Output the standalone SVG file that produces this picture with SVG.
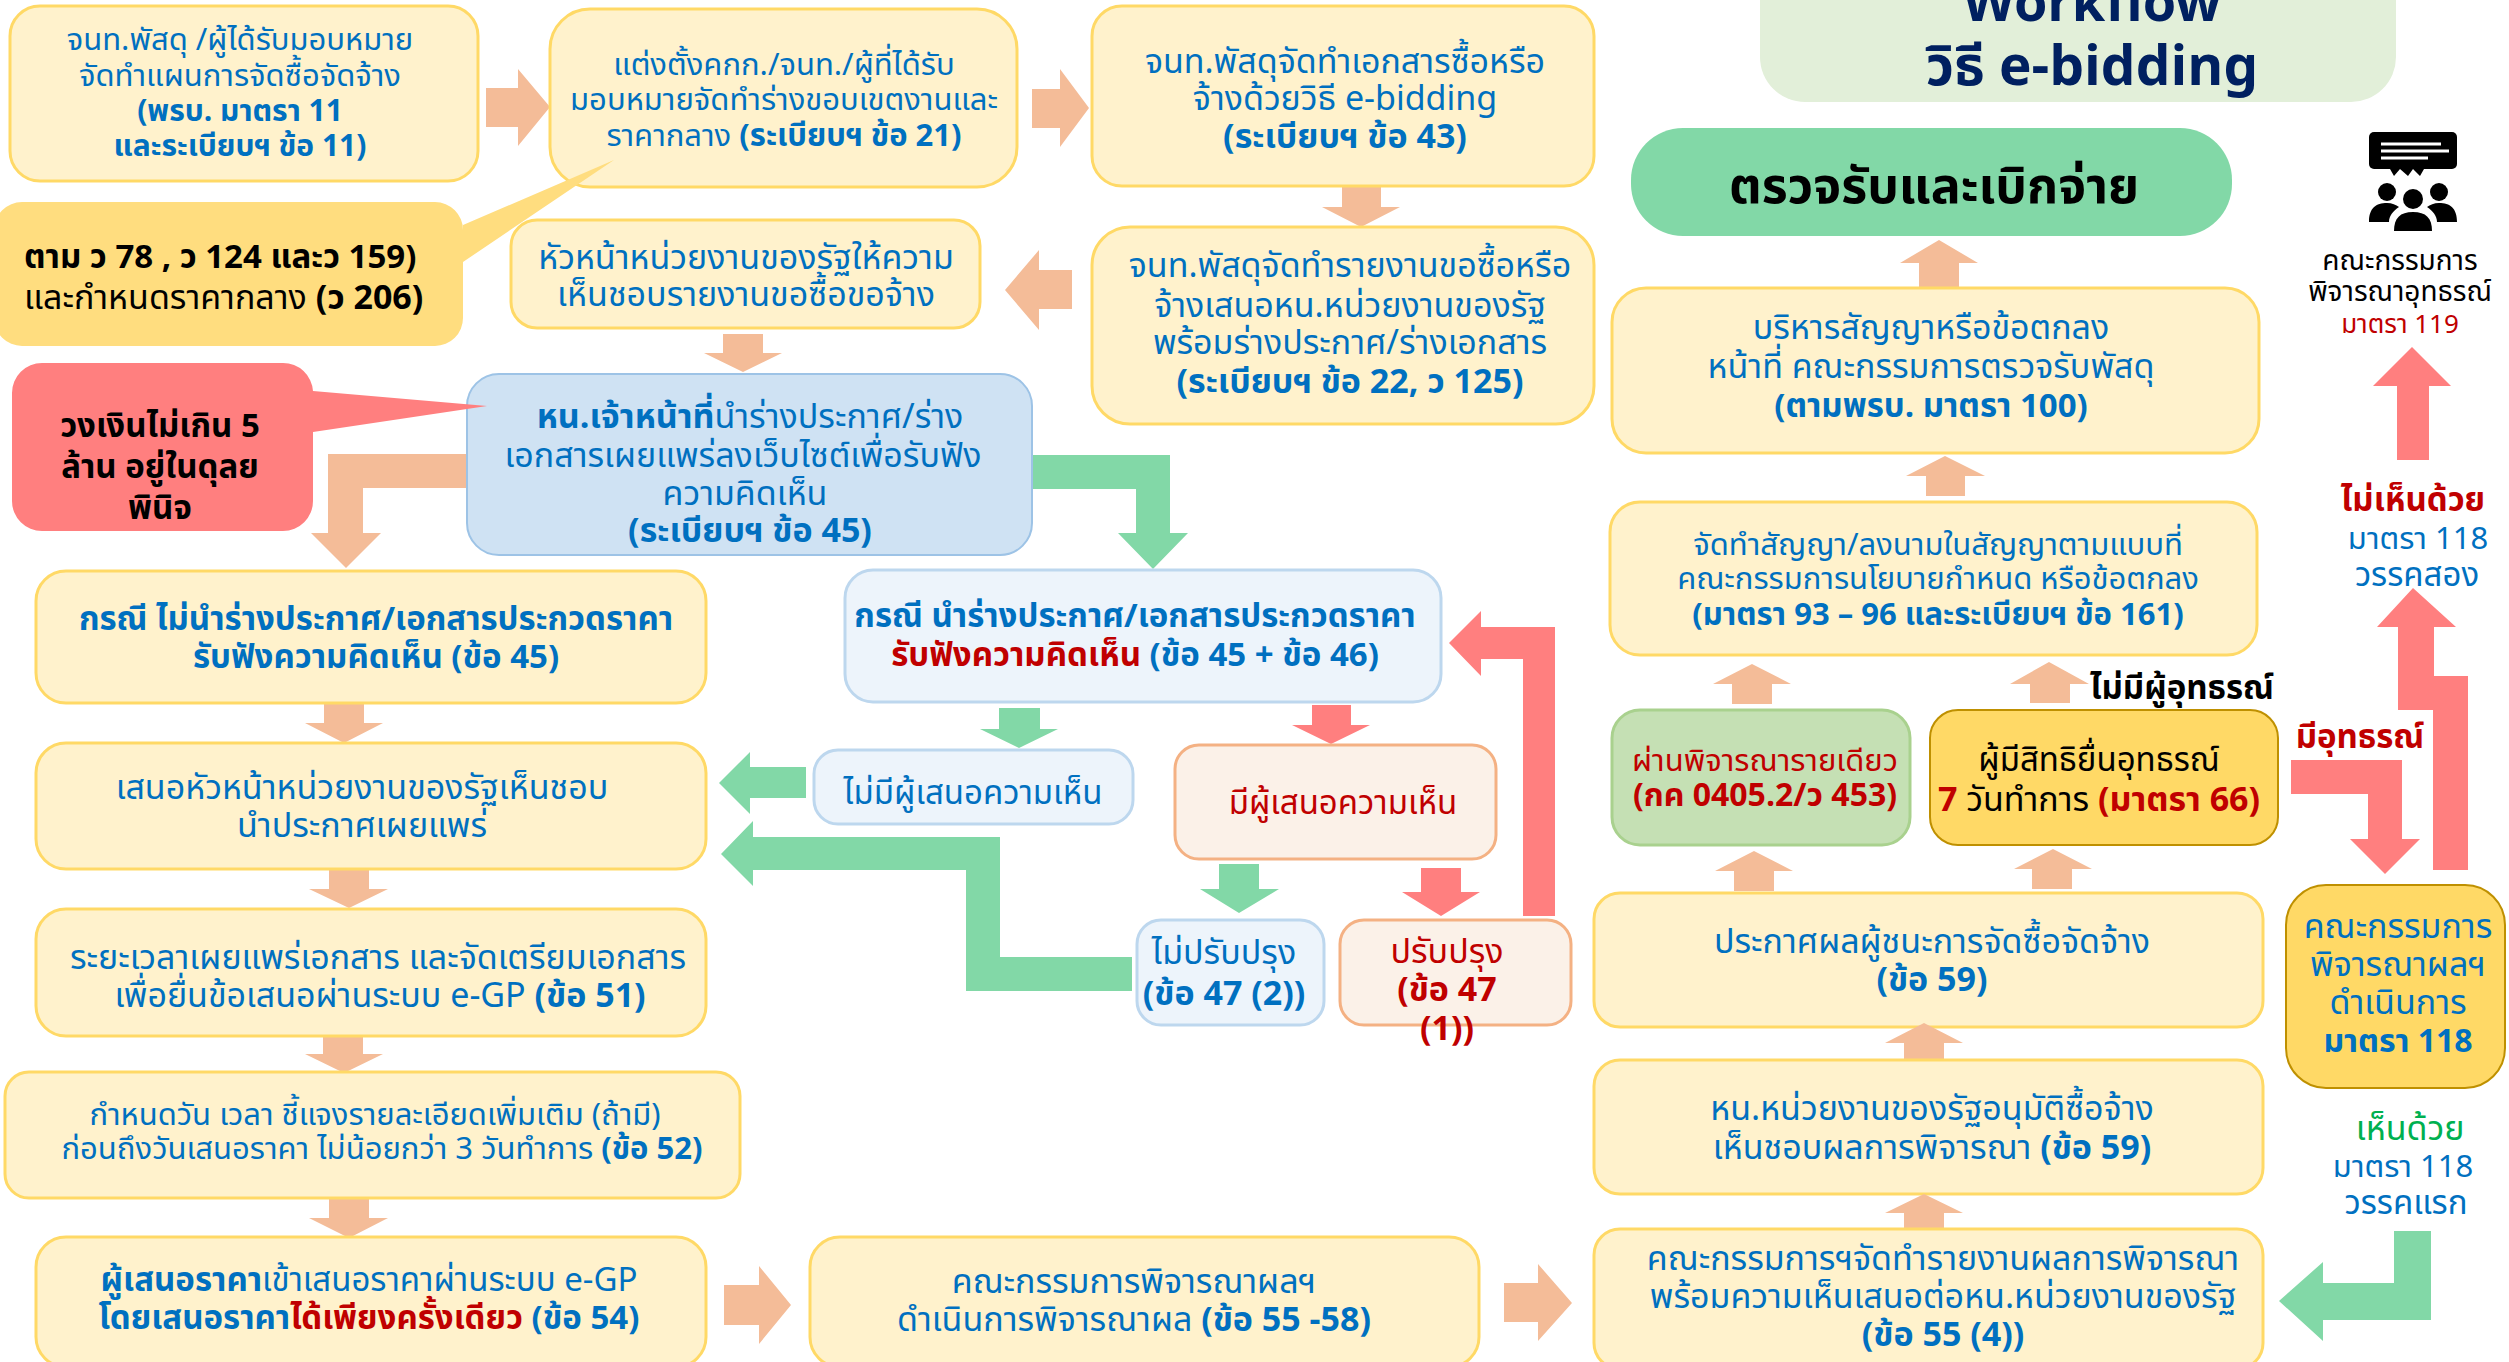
<svg xmlns="http://www.w3.org/2000/svg" width="2509" height="1362" viewBox="0 0 2509 1362">
<style>
text{font-family:"Noto Sans Thai","Noto Sans","Liberation Sans",sans-serif;font-size:34px;fill:#0070C0;text-anchor:middle;transform:translateY(1px)}
.b{font-weight:700}
.r{fill:#C00000}
.k{fill:#000}
.g{fill:#00B050}
.t26{font-size:26px}
.t28{font-size:28px}
.t30{font-size:30px}
.t31{font-size:31px}
.t32{font-size:32px}
.t33{font-size:33px}
.y{fill:#FFF2CC;stroke:#FFD966;stroke-width:3}
.lb{fill:#EDF4FB;stroke:#BDD7EE;stroke-width:3}
.lo{fill:#FBF1E8;stroke:#F4B183;stroke-width:3}
.o{fill:#F4BC98}
.rd{fill:#FF7F7F}
.gn{fill:#82D8A7}
</style>
<g id="title"><path d="M1760 -40H2396V57A45 45 0 0 1 2351 102H1805A45 45 0 0 1 1760 57Z" fill="#E2EFD9"/>
<text x="2092" y="20" class="b" style="font-size:54px;fill:#002060">Workflow</text><text x="2092" y="84" class="b" style="font-size:55px;fill:#002060">วิธี e-bidding</text></g>
<g id="connectors">
<polygon class="o" points="486,88 518,88 518,69 550,107 518,146 518,127 486,127"/>
<polygon class="o" points="1032,89 1060,89 1060,69 1089,108 1060,147 1060,128 1032,128"/>
<polygon class="o" points="1342,186 1381,186 1381,207 1400,207 1361,227 1322,207 1342,207"/>
<polygon class="o" points="1072,270 1039,270 1039,250 1005,290 1039,330 1039,309 1072,309"/>
<polygon class="o" points="723,334 763,334 763,353 782,353 743,372 704,353 723,353"/>
<polygon class="o" points="467,454 328,454 328,533 311,533 346,568 381,533 363,533 363,488 467,488"/>
<polygon class="gn" points="1032,455 1170,455 1170,533 1188,533 1153,569 1118,533 1136,533 1136,489 1032,489"/>
<polygon class="o" points="324,703 364,703 364,723 383,723 344,743 305,723 324,723"/>
<polygon class="o" points="329,869 369,869 369,889 388,889 349,908 309,889 329,889"/>
<polygon class="o" points="323,1034 363,1034 363,1054 383,1054 344,1073 305,1054 323,1054"/>
<polygon class="o" points="329,1198 369,1198 369,1218 388,1218 349,1238 309,1218 329,1218"/>
<polygon class="o" points="724,1285 759,1285 759,1266 791,1305 759,1344 759,1325 724,1325"/>
<polygon class="o" points="1504,1283 1538,1283 1538,1264 1572,1303 1538,1341 1538,1322 1504,1322"/>
<polygon class="gn" points="999,708 1040,708 1040,729 1058,729 1019,748 980,729 999,729"/>
<polygon class="rd" points="1312,705 1351,705 1351,725 1370,725 1331,744 1292,725 1312,725"/>
<polygon class="gn" points="806,767 750,767 750,752 719,783 750,814 750,798 806,798"/>
<polygon class="gn" points="1132,957 1000,957 1000,837 753,837 753,821 721,854 753,886 753,870 966,870 966,991 1132,991"/>
<polygon class="gn" points="1219,864 1259,864 1259,889 1279,889 1239,913 1200,889 1219,889"/>
<polygon class="rd" points="1421,868 1461,868 1461,892 1480,892 1441,916 1402,892 1421,892"/>
<polygon class="rd" points="1555,916 1555,627 1481,627 1481,611 1449,643 1481,676 1481,659 1523,659 1523,916"/>
<polygon class="o" points="1919,287 1959,287 1959,263 1978,263 1939,240 1900,263 1919,263"/>
<polygon class="o" points="1926,496 1965,496 1965,476 1985,476 1945,456 1906,476 1926,476"/>
<polygon class="o" points="1732,704 1772,704 1772,684 1791,684 1752,664 1713,684 1732,684"/>
<polygon class="o" points="2030,703 2070,703 2070,684 2089,684 2049,662 2010,684 2030,684"/>
<polygon class="o" points="1734,891 1774,891 1774,871 1793,871 1754,851 1715,871 1734,871"/>
<polygon class="o" points="2032,889 2072,889 2072,869 2092,869 2053,849 2014,869 2032,869"/>
<polygon class="rd" points="2291,760 2402,760 2402,839 2420,839 2385,874 2350,839 2368,839 2368,794 2291,794"/>
<polygon class="rd" points="2413,588 2456,627 2434,627 2434,676 2468,676 2468,870 2433,870 2433,710 2398,710 2398,627 2377,627"/>
<polygon class="rd" points="2397,460 2429,460 2429,386 2451,386 2412,347 2373,386 2397,386"/>
<polygon class="gn" points="2394,1231 2431,1231 2431,1320 2323,1320 2323,1341 2279,1301 2323,1262 2323,1283 2394,1283"/>
</g>
<g id="n1"><rect class="y" x="10" y="6" width="468" height="175" rx="30"/><text x="240" y="49" class="t31">จนท.พัสดุ /ผู้ได้รับมอบหมาย</text><text x="240" y="85" class="t31">จัดทำแผนการจัดซื้อจัดจ้าง</text><text x="240" y="120" class="b t30">(พรบ. มาตรา 11</text><text x="240" y="155" class="b t30">และระเบียบฯ ข้อ 11)</text></g>
<g id="n2"><rect class="y" x="550" y="9" width="467" height="178" rx="40"/><text x="784" y="74" class="t31">แต่งตั้งคกก./จนท./ผู้ที่ได้รับ</text><text x="784" y="109" class="t31">มอบหมายจัดทำร่างขอบเขตงานและ</text><text x="784" y="145" class="t31">ราคากลาง <tspan class="b">(ระเบียบฯ ข้อ 21)</tspan></text></g>
<g id="n3"><rect class="y" x="1092" y="6" width="502" height="180" rx="30"/><text x="1345" y="72">จนท.พัสดุจัดทำเอกสารซื้อหรือ</text><text x="1345" y="109">จ้างด้วยวิธี e-bidding</text><text x="1345" y="147" class="b">(ระเบียบฯ ข้อ 43)</text></g>
<g id="n4"><rect class="y" x="1092" y="227" width="502" height="197" rx="38"/><text x="1350" y="276">จนท.พัสดุจัดทำรายงานขอซื้อหรือ</text><text x="1350" y="316">จ้างเสนอหน.หน่วยงานของรัฐ</text><text x="1350" y="353">พร้อมร่างประกาศ/ร่างเอกสาร</text><text x="1350" y="392" class="b">(ระเบียบฯ ข้อ 22, ว 125)</text></g>
<g id="n5"><rect class="y" x="511" y="220" width="469" height="108" rx="26"/><text x="746" y="268">หัวหน้าหน่วยงานของรัฐให้ความ</text><text x="746" y="305">เห็นชอบรายงานขอซื้อขอจ้าง</text></g>
<g id="c1"><path fill="#FFDD7F" d="M22 202H435A28 28 0 0 1 463 230V225L614 160 463 262V318A28 28 0 0 1 435 346H22A28 28 0 0 1 -6 318V230A28 28 0 0 1 22 202Z"/><text x="24" y="267" class="b k t33" style="text-anchor:start">ตาม ว 78 , ว 124 และว 159)</text><text x="24" y="308" class="k" style="text-anchor:start">และกำหนดราคากลาง <tspan class="b">(ว 206)</tspan></text></g>
<g id="n6"><rect x="467" y="374" width="565" height="181" rx="32" fill="#CFE2F3" stroke="#9DC3E6" stroke-width="2"/><text x="750" y="427"><tspan class="b">หน.เจ้าหน้าที่</tspan>นำร่างประกาศ/ร่าง</text><text x="743" y="466">เอกสารเผยแพร่ลงเว็บไซต์เพื่อรับฟัง</text><text x="745" y="504">ความคิดเห็น</text><text x="750" y="541" class="b">(ระเบียบฯ ข้อ 45)</text></g>
<g id="c2"><path fill="#FF7F7F" d="M42 363H283A30 30 0 0 1 313 391L487 406 313 432V501A30 30 0 0 1 283 531H42A30 30 0 0 1 12 501V393A30 30 0 0 1 42 363Z"/><text x="160" y="436" class="b k t33">วงเงินไม่เกิน 5</text><text x="160" y="477" class="b k t33">ล้าน อยู่ในดุลย</text><text x="160" y="518" class="b k t33">พินิจ</text></g>
<g id="n7"><rect class="y" x="36" y="571" width="670" height="132" rx="30"/><text x="376" y="629" class="b t33">กรณี ไม่นำร่างประกาศ/เอกสารประกวดราคา</text><text x="376" y="667" class="b t33">รับฟังความคิดเห็น (ข้อ 45)</text></g>
<g id="n8"><rect class="y" x="36" y="743" width="670" height="126" rx="30"/><text x="362" y="798">เสนอหัวหน้าหน่วยงานของรัฐเห็นชอบ</text><text x="362" y="836">นำประกาศเผยแพร่</text></g>
<g id="n9"><rect class="y" x="36" y="909" width="670" height="127" rx="30"/><text x="378" y="968">ระยะเวลาเผยแพร่เอกสาร และจัดเตรียมเอกสาร</text><text x="380" y="1006">เพื่อยื่นข้อเสนอผ่านระบบ e-GP <tspan class="b">(ข้อ 51)</tspan></text></g>
<g id="n10"><rect class="y" x="5" y="1072" width="735" height="126" rx="24"/><text x="375" y="1124" class="t31">กำหนดวัน เวลา ชี้แจงรายละเอียดเพิ่มเติม (ถ้ามี)</text><text x="382" y="1158" class="t31">ก่อนถึงวันเสนอราคา ไม่น้อยกว่า 3 วันทำการ <tspan class="b">(ข้อ 52)</tspan></text></g>
<g id="n11"><rect class="y" x="36" y="1237" width="670" height="130" rx="30"/><text x="369" y="1290" class="t33"><tspan class="b">ผู้เสนอราคา</tspan>เข้าเสนอราคาผ่านระบบ e-GP</text><text x="369" y="1328" class="b t33">โดยเสนอราคา<tspan class="r">ได้เพียงครั้งเดียว</tspan> (ข้อ 54)</text></g>
<g id="n12"><rect class="y" x="810" y="1237" width="669" height="130" rx="30"/><text x="1134" y="1292">คณะกรรมการพิจารณาผลฯ</text><text x="1134" y="1330">ดำเนินการพิจารณาผล <tspan class="b">(ข้อ 55 -58)</tspan></text></g>
<g id="n13"><rect class="lb" x="845" y="570" width="596" height="132" rx="28"/><text x="1135" y="626" class="b t33">กรณี นำร่างประกาศ/เอกสารประกวดราคา</text><text x="1135" y="665" class="b t33"><tspan class="r">รับฟังความคิดเห็น</tspan> (ข้อ 45 + ข้อ 46)</text></g>
<g id="n14"><rect class="lb" x="814" y="750" width="319" height="74" rx="24"/><text x="973" y="803" class="t33">ไม่มีผู้เสนอความเห็น</text></g>
<g id="n15"><rect class="lo" x="1175" y="745" width="321" height="114" rx="24"/><text x="1343" y="813" class="r t33">มีผู้เสนอความเห็น</text></g>
<g id="n16"><rect class="lb" x="1137" y="920" width="187" height="105" rx="24"/><text x="1224" y="963">ไม่ปรับปรุง</text><text x="1224" y="1004" class="b">(ข้อ 47 (2))</text></g>
<g id="n17"><rect class="lo" x="1340" y="920" width="231" height="105" rx="24"/><text x="1447" y="962" class="r">ปรับปรุง</text><text x="1447" y="1000" class="b r">(ข้อ 47</text><text x="1447" y="1039" class="b r">(1))</text></g>
<g id="n18"><rect x="1631" y="128" width="601" height="108" rx="52" fill="#82D8A7"/><text x="1934" y="202" class="b k" style="font-size:50px">ตรวจรับและเบิกจ่าย</text></g>
<g id="n19"><rect class="y" x="1612" y="288" width="647" height="165" rx="34"/><text x="1931" y="338">บริหารสัญญาหรือข้อตกลง</text><text x="1931" y="377">หน้าที่ คณะกรรมการตรวจรับพัสดุ</text><text x="1931" y="416" class="b t33">(ตามพรบ. มาตรา 100)</text></g>
<g id="n20"><rect class="y" x="1610" y="502" width="647" height="153" rx="30"/><text x="1938" y="554" class="t31">จัดทำสัญญา/ลงนามในสัญญาตามแบบที่</text><text x="1938" y="588" class="t31">คณะกรรมการนโยบายกำหนด หรือข้อตกลง</text><text x="1938" y="624" class="t31 b">(มาตรา 93 – 96 และระเบียบฯ ข้อ 161)</text></g>
<g id="n21"><rect x="1612" y="710" width="298" height="135" rx="28" fill="#C5E0B4" stroke="#A9D18E" stroke-width="3"/><text x="1765" y="770" class="t31 r">ผ่านพิจารณารายเดียว</text><text x="1765" y="805" class="t32 b r">(กค 0405.2/ว 453)</text></g>
<g id="n22"><rect x="1930" y="710" width="348" height="135" rx="28" fill="#FFD966" stroke="#BF9000" stroke-width="2"/><text x="2099" y="770" class="k t33">ผู้มีสิทธิยื่นอุทธรณ์</text><text x="2099" y="810" class="k"><tspan class="b r">7</tspan> วันทำการ <tspan class="b r">(มาตรา 66)</tspan></text></g>
<g id="n23"><rect class="y" x="1594" y="893" width="669" height="134" rx="26"/><text x="1932" y="952">ประกาศผลผู้ชนะการจัดซื้อจัดจ้าง</text><text x="1932" y="990" class="b">(ข้อ 59)</text></g>
<g id="arrows-upper"><polygon class="o" points="1904,1063 1944,1063 1944,1043 1963,1043 1924,1023 1885,1043 1904,1043"/></g>
<g id="n24"><rect class="y" x="1594" y="1060" width="669" height="134" rx="26"/><text x="1932" y="1119">หน.หน่วยงานของรัฐอนุมัติซื้อจ้าง</text><text x="1932" y="1158">เห็นชอบผลการพิจารณา <tspan class="b">(ข้อ 59)</tspan></text></g>
<g id="arrows-lower"><polygon class="o" points="1904,1230 1944,1230 1944,1213 1963,1213 1924,1194 1885,1213 1904,1213"/></g>
<g id="n25"><rect class="y" x="1594" y="1229" width="669" height="140" rx="26"/><text x="1943" y="1269">คณะกรรมการฯจัดทำรายงานผลการพิจารณา</text><text x="1943" y="1307">พร้อมความเห็นเสนอต่อหน.หน่วยงานของรัฐ</text><text x="1943" y="1345" class="b">(ข้อ 55 (4))</text></g>
<g id="n26"><rect x="2286" y="885" width="219" height="203" rx="40" fill="#FFD966" stroke="#BF9000" stroke-width="2"/><text x="2398" y="937">คณะกรรมการ</text><text x="2398" y="975">พิจารณาผลฯ</text><text x="2398" y="1013">ดำเนินการ</text><text x="2398" y="1051" class="b t32">มาตรา 118</text></g>
<g id="icon"><path d="M2374 132H2452A5 5 0 0 1 2457 137V164A5 5 0 0 1 2452 169H2374A5 5 0 0 1 2369 164V137A5 5 0 0 1 2374 132Z"/><path d="M2390 169L2394 176 2400 169 2408 176 2413 169 2420 176 2424 169 2432 169Z"/><path d="M2381 144H2441M2381 151H2449M2381 158H2428" stroke="#fff" stroke-width="3"/><circle cx="2387" cy="192" r="9"/><circle cx="2439" cy="192" r="9"/><circle cx="2413" cy="199" r="10"/><path d="M2369 222C2369 208 2376 203 2387 203 2392 203 2396 205 2399 207 2393 211 2389 216 2389 222Z"/><path d="M2457 222C2457 208 2450 203 2439 203 2434 203 2430 205 2427 207 2433 211 2437 216 2437 222Z"/><path d="M2394 231C2394 218 2400 212 2413 212 2426 212 2432 218 2432 231Z"/></g>
<g id="labels">
<text x="2400" y="269" class="k t28">คณะกรรมการ</text><text x="2400" y="300" class="k t28">พิจารณาอุทธรณ์</text><text x="2400" y="332" class="r t26">มาตรา 119</text>
<text x="2413" y="510" class="b r t33">ไม่เห็นด้วย</text><text x="2418" y="548" class="t31">มาตรา 118</text><text x="2417" y="585" class="t33">วรรคสอง</text>
<text x="2182" y="698" class="b k t33">ไม่มีผู้อุทธรณ์</text>
<text x="2360" y="747" class="b r t33">มีอุทธรณ์</text>
<text x="2410" y="1139" class="g">เห็นด้วย</text><text x="2403" y="1176" class="t31">มาตรา 118</text><text x="2406" y="1213" class="t33">วรรคแรก</text>
</g>
</svg>
